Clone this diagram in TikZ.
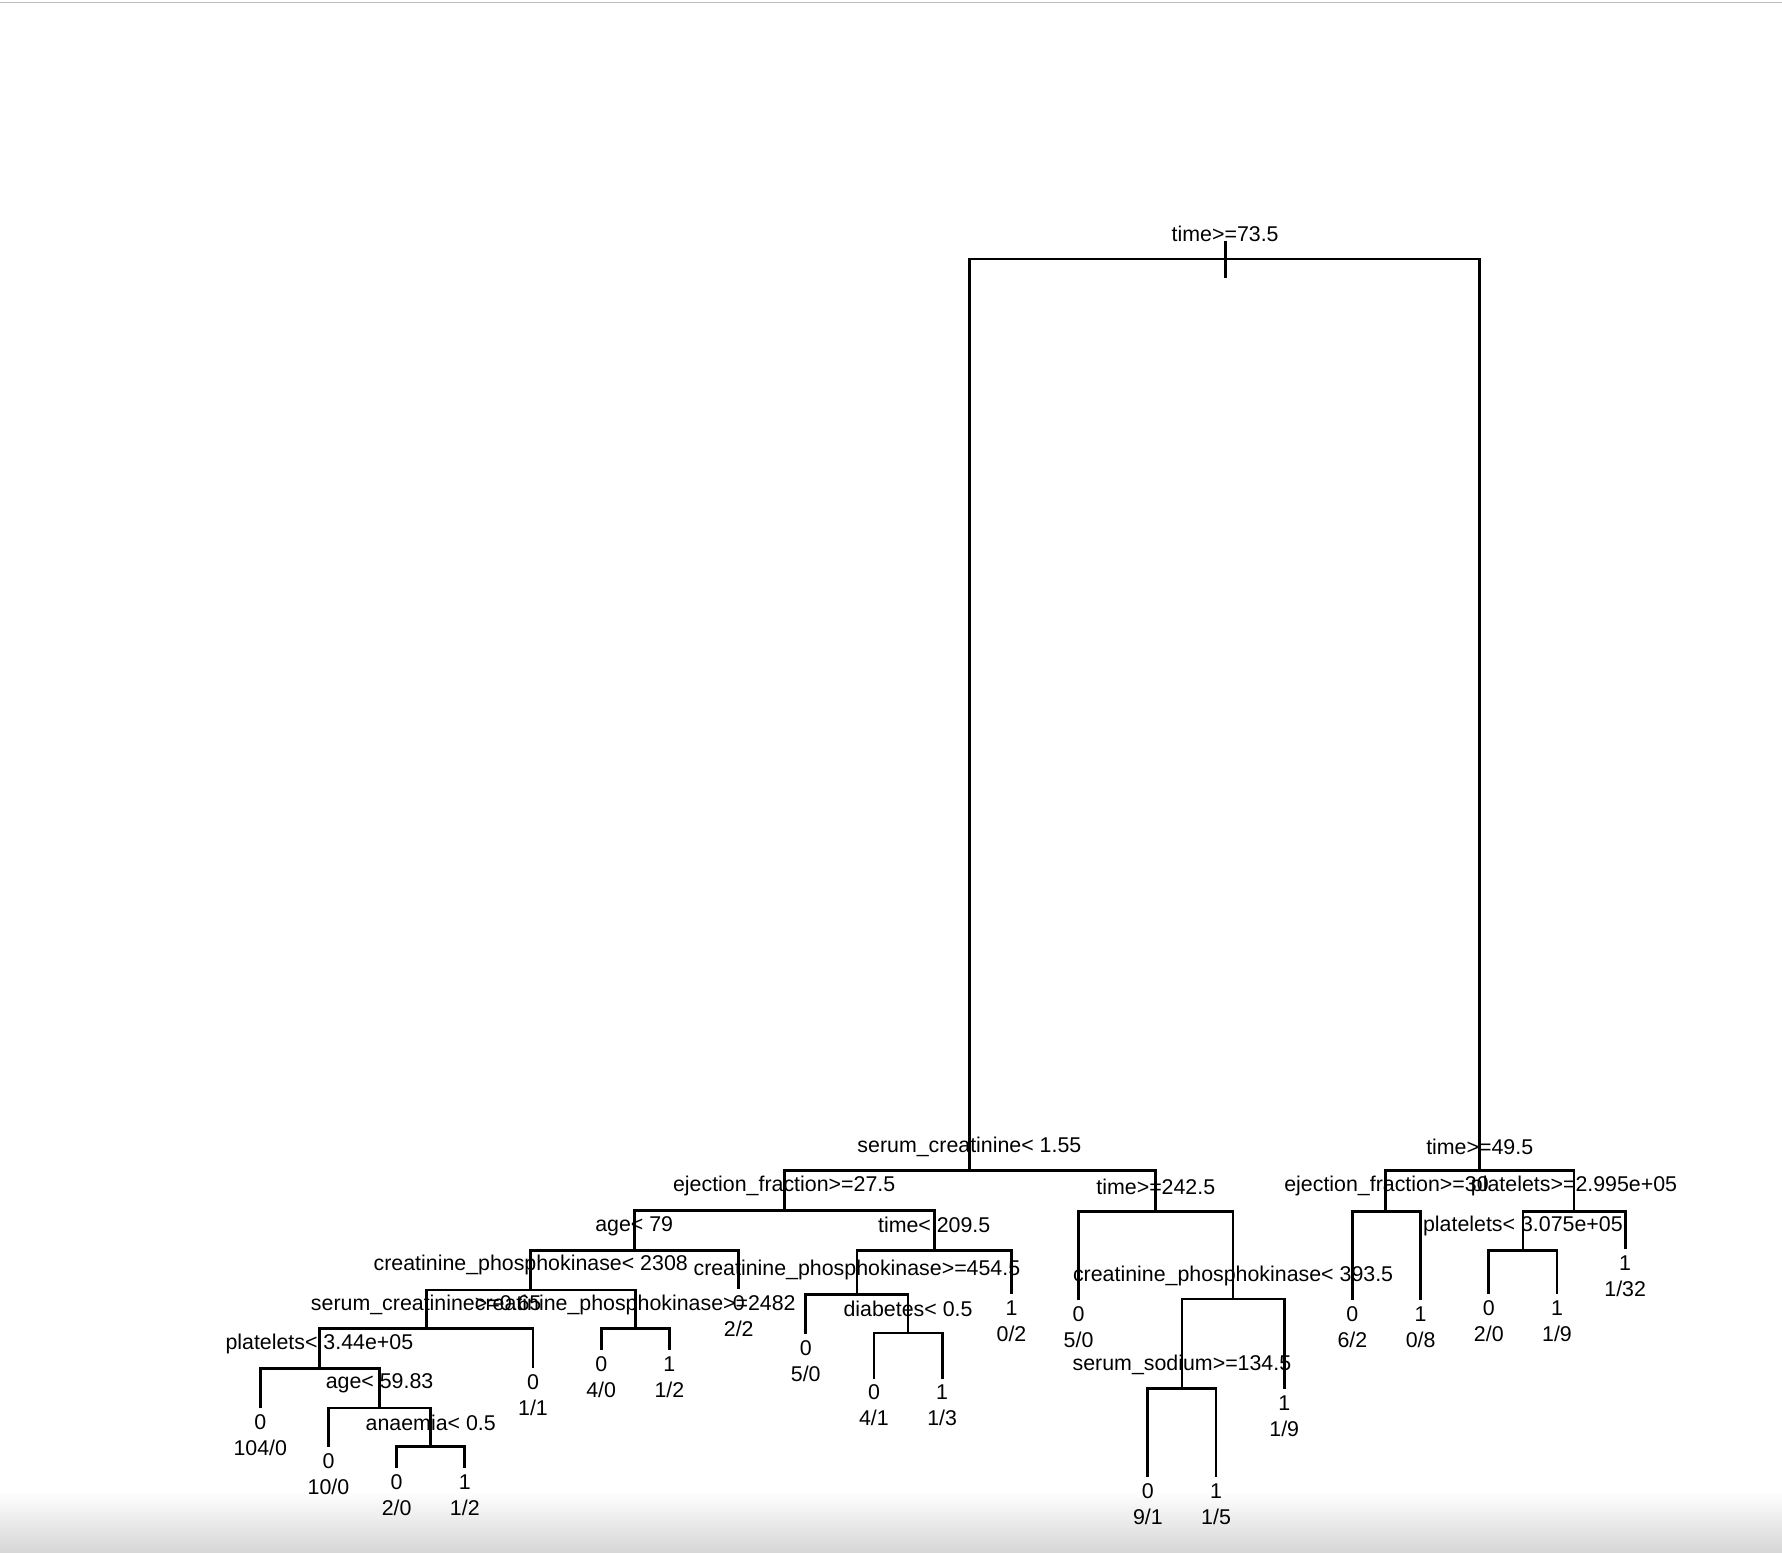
\documentclass[tikz,border=0pt]{standalone}
\usepackage{fontspec}
\setmainfont{Liberation Sans}
\newcommand\lblfont{\fontsize{18.8}{22}\selectfont}
\tikzset{
  lab/.style={anchor=base, inner sep=0pt, font=\lblfont, yshift=-6.7pt},
  br/.style={line width=2.4pt, line join=miter},
}
\begin{document}
\begin{tikzpicture}[x=1pt,y=-1pt]
\useasboundingbox (0,0) rectangle (1568,1366);
\fill[white] (0,0) rectangle (1568,1366);
\shade[top color=white, bottom color=black!16] (0,1312) rectangle (1568,1366);
\draw[black!25, line width=1pt] (0,2) -- (1568,2);

% internal split points
\coordinate (n1) at (1078,228);
\coordinate (n2) at (853,1030);
\coordinate (n3) at (1302,1030);
\coordinate (n4) at (690,1065);
\coordinate (n5) at (1017,1066);
\coordinate (n6) at (1219,1066);
\coordinate (n7) at (1385,1066);
\coordinate (n8) at (558,1100);
\coordinate (n9) at (822,1100);
\coordinate (n10) at (1085,1143);
\coordinate (n11) at (1340,1100);
\coordinate (n12) at (467,1135);
\coordinate (n13) at (754,1139);
\coordinate (n14) at (1040,1222);
\coordinate (n15) at (375,1169);
\coordinate (n16) at (559,1169);
\coordinate (n17) at (799,1173);
\coordinate (n18) at (281,1204);
\coordinate (n19) at (334,1239);
\coordinate (n20) at (379,1273);

% leaves (end of line)
\coordinate (L1) at (949,1144);
\coordinate (L2) at (1190,1144);
\coordinate (L3) at (1250,1144);
\coordinate (L4) at (1430,1099);
\coordinate (L5) at (650,1134);
\coordinate (L6) at (890,1139);
\coordinate (L7) at (1130,1222);
\coordinate (L8) at (1310,1139);
\coordinate (L9) at (1370,1139);
\coordinate (L10) at (469,1204);
\coordinate (L11) at (529,1188);
\coordinate (L12) at (589,1188);
\coordinate (L13) at (709,1174);
\coordinate (L14) at (769,1213);
\coordinate (L15) at (829,1213);
\coordinate (L16) at (1010,1300);
\coordinate (L17) at (1070,1300);
\coordinate (L18) at (229,1239);
\coordinate (L19) at (289,1273);
\coordinate (L20) at (349,1292);
\coordinate (L21) at (409,1292);

% branches
\draw[br] (1078,212) -- (1078,245);
\draw[br] (n2) |- (n1) -| (n3);
\draw[br] (n4) |- (n2) -| (n5);
\draw[br] (n6) |- (n3) -| (n7);
\draw[br] (n8) |- (n4) -| (n9);
\draw[br] (L1) |- (n5) -| (n10);
\draw[br] (L2) |- (n6) -| (L3);
\draw[br] (n11) |- (n7) -| (L4);
\draw[br] (n12) |- (n8) -| (L5);
\draw[br] (n13) |- (n9) -| (L6);
\draw[br] (n14) |- (n10) -| (L7);
\draw[br] (L8) |- (n11) -| (L9);
\draw[br] (n15) |- (n12) -| (n16);
\draw[br] (L13) |- (n13) -| (n17);
\draw[br] (L16) |- (n14) -| (L17);
\draw[br] (n18) |- (n15) -| (L10);
\draw[br] (L11) |- (n16) -| (L12);
\draw[br] (L14) |- (n17) -| (L15);
\draw[br] (L18) |- (n18) -| (n19);
\draw[br] (L19) |- (n19) -| (n20);
\draw[br] (L20) |- (n20) -| (L21);

% split labels
\path (n1) ++(0,-22) node[lab] (t1) {time>=73.5};
\path (n2) ++(0,-23) node[lab] (t2) {serum\_creatinine< 1.55};
\path (n3) ++(0,-21) node[lab] (t3) {time>=49.5};
\path (n4) ++(0,-23) node[lab] (t4) {ejection\_fraction>=27.5};
\path (n5) ++(0,-22) node[lab] (t5) {time>=242.5};
\path (n6) ++(1,-24) node[lab] (t6) {ejection\_fraction>=30};
\path (n7) ++(0,-24) node[lab] (t7) {platelets>=2.995e+05};
\path (n8) ++(0,-23) node[lab] (t8) {age< 79};
\path (n9) ++(0,-22) node[lab] (t9) {time< 209.5};
\path (n10) ++(0,-22) node[lab] (t10) {creatinine\_phosphokinase< 393.5};
\path (n11) ++(0,-23) node[lab] (t11) {platelets< 3.075e+05};
\path (n12) ++(0,-24) node[lab] (t12) {creatinine\_phosphokinase< 2308};
\path (n13) ++(0,-23) node[lab] (t13) {creatinine\_phosphokinase>=454.5};
\path (n14) ++(0,-23) node[lab] (t14) {serum\_sodium>=134.5};
\path (n15) ++(0,-23) node[lab] (t15) {serum\_creatinine>=0.65};
\path (n16) ++(0,-23) node[lab] (t16) {creatinine\_phosphokinase>=2482};
\path (n17) ++(0,-21) node[lab] (t17) {diabetes< 0.5};
\path (n18) ++(0,-23) node[lab] (t18) {platelets< 3.44e+05};
\path (n19) ++(0,-24) node[lab] (t19) {age< 59.83};
\path (n20) ++(0,-21) node[lab] (t20) {anaemia< 0.5};

% leaf labels
\foreach \l/\c/\n in {L1/0/{5/0}, L2/0/{6/2}, L3/1/{0/8}, L4/1/{1/32}, L5/0/{2/2},
  L6/1/{0/2}, L7/1/{1/9}, L8/0/{2/0}, L9/1/{1/9}, L10/0/{1/1}, L11/0/{4/0},
  L12/1/{1/2}, L13/0/{5/0}, L14/0/{4/1}, L15/1/{1/3}, L16/0/{9/1}, L17/1/{1/5},
  L18/0/{104/0}, L19/0/{10/0}, L20/0/{2/0}, L21/1/{1/2}}{
  \path (\l) ++(0,12) node[lab] (\l c) {\c};
  \path (\l) ++(0,35) node[lab] (\l n) {\n};
}
\end{tikzpicture}
\end{document}
